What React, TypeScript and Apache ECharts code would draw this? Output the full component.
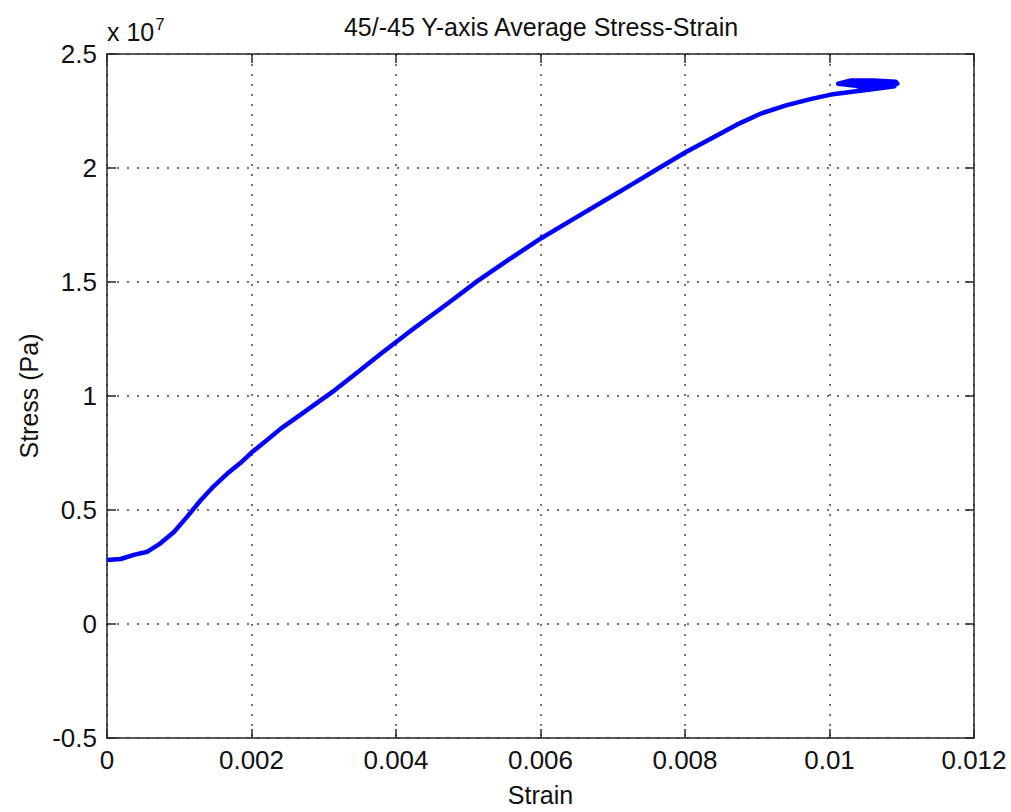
import React, { useEffect, useRef } from "react";
import * as echarts from "echarts";

// Strain (dimensionless) and average stress (units of 1e7 Pa)
const strain = [
  0, 0.00019, 0.00037, 0.00056, 0.00074, 0.00093, 0.00111, 0.0013, 0.00148, 0.00167,
  0.00185, 0.002, 0.00222, 0.00241, 0.00268, 0.00296, 0.00315, 0.00342, 0.00379, 0.00425,
  0.00472, 0.00513, 0.00555, 0.00601, 0.00647, 0.00693, 0.0073, 0.00763, 0.00802, 0.00837,
  0.00871, 0.00906, 0.00941, 0.00975, 0.01002, 0.01026, 0.01054, 0.0109,
  0.01092, 0.0106, 0.0103, 0.01012, 0.0104, 0.0107, 0.01094,
  0.0106, 0.0103, 0.0105, 0.0108, 0.01093,
];
const stress = [
  0.281, 0.285, 0.303, 0.317, 0.354, 0.405, 0.471, 0.544, 0.605, 0.661,
  0.707, 0.752, 0.808, 0.858, 0.918, 0.982, 1.025, 1.092, 1.185, 1.297,
  1.407, 1.505, 1.596, 1.692, 1.779, 1.865, 1.935, 1.998, 2.071, 2.13,
  2.189, 2.24, 2.276, 2.303, 2.322, 2.332, 2.343, 2.358,
  2.378, 2.384, 2.384, 2.37, 2.36, 2.366, 2.37,
  2.374, 2.366, 2.35, 2.362, 2.374,
];

const xTickLabels = ["0", "0.002", "0.004", "0.006", "0.008", "0.01", "0.012"];
const yTickLabels = ["-0.5", "0", "0.5", "1", "1.5", "2", "2.5"];

const FONT = "'Liberation Sans', Arial, Helvetica, sans-serif";

export default function App() {
  const ref = useRef<HTMLDivElement>(null);

  useEffect(() => {
    if (!ref.current) return;
    const chart = echarts.init(ref.current, undefined, { renderer: "svg" });
    const data = strain.map((s, i) => [s, stress[i]]);
    const axisLine = { show: true, onZero: false, lineStyle: { color: "#262626", width: 1.5 } };
    const axisTick = { show: true, inside: true, length: 9, lineStyle: { color: "#262626", width: 1.5 } };
    const gridLine = { show: true, lineStyle: { color: "#444", width: 1.5, type: [2, 8] as any } };

    chart.setOption({
      animation: false,
      backgroundColor: "#ffffff",
      textStyle: { fontFamily: FONT },
      title: {
        text: "45/-45 Y-axis Average Stress-Strain",
        left: 536,
        top: 9,
        textAlign: "center",
        textStyle: { fontFamily: FONT, fontSize: 25, fontWeight: "normal", color: "#111" },
      },
      grid: { left: 107, right: 37, top: 54, bottom: 74, containLabel: false },
      xAxis: [
        {
          type: "value",
          min: 0,
          max: 0.012,
          interval: 0.002,
          name: "Strain",
          nameLocation: "middle",
          nameGap: 44,
          nameTextStyle: { fontFamily: FONT, fontSize: 25, color: "#111" },
          axisLine,
          axisTick,
          splitLine: gridLine,
          axisLabel: {
            fontFamily: FONT,
            fontSize: 26,
            color: "#111",
            margin: 9,
            formatter: (v: number) => xTickLabels[Math.round(v / 0.002)] ?? "",
          },
        },
        {
          type: "value",
          position: "top",
          min: 0,
          max: 0.012,
          interval: 0.002,
          axisLine,
          axisTick,
          splitLine: { show: false },
          axisLabel: { show: false },
        },
      ],
      yAxis: [
        {
          type: "value",
          min: -0.5,
          max: 2.5,
          interval: 0.5,
          name: "Stress (Pa)",
          nameLocation: "middle",
          nameGap: 66,
          nameRotate: 90,
          nameTextStyle: { fontFamily: FONT, fontSize: 25, color: "#111" },
          axisLine,
          axisTick,
          splitLine: gridLine,
          axisLabel: {
            fontFamily: FONT,
            fontSize: 26,
            color: "#111",
            margin: 10,
            formatter: (v: number) => yTickLabels[Math.round((v + 0.5) / 0.5)] ?? "",
          },
        },
        {
          type: "value",
          position: "right",
          min: -0.5,
          max: 2.5,
          interval: 0.5,
          axisLine,
          axisTick,
          splitLine: { show: false },
          axisLabel: { show: false },
        },
      ],
      graphic: [
        {
          type: "text",
          left: 107,
          top: 16,
          style: {
            text: "x 10{sup|7}",
            fontFamily: FONT,
            fontSize: 25,
            fill: "#111",
            rich: {
              sup: { fontFamily: FONT, fontSize: 17, fill: "#111", verticalAlign: "top", padding: [0, 0, 14, 1] },
            },
          },
        },
      ],
      series: [
        {
          type: "line",
          data,
          xAxisIndex: 0,
          yAxisIndex: 0,
          showSymbol: false,
          smooth: false,
          lineStyle: { color: "#0000ff", width: 4.5, join: "round" },
          itemStyle: { color: "#0000ff" },
        },
      ],
    });

    return () => chart.dispose();
  }, []);

  return (
    <div
      ref={ref}
      style={{ position: "fixed", left: 0, top: 0, width: 1011, height: 812, background: "#fff" }}
    />
  );
}
